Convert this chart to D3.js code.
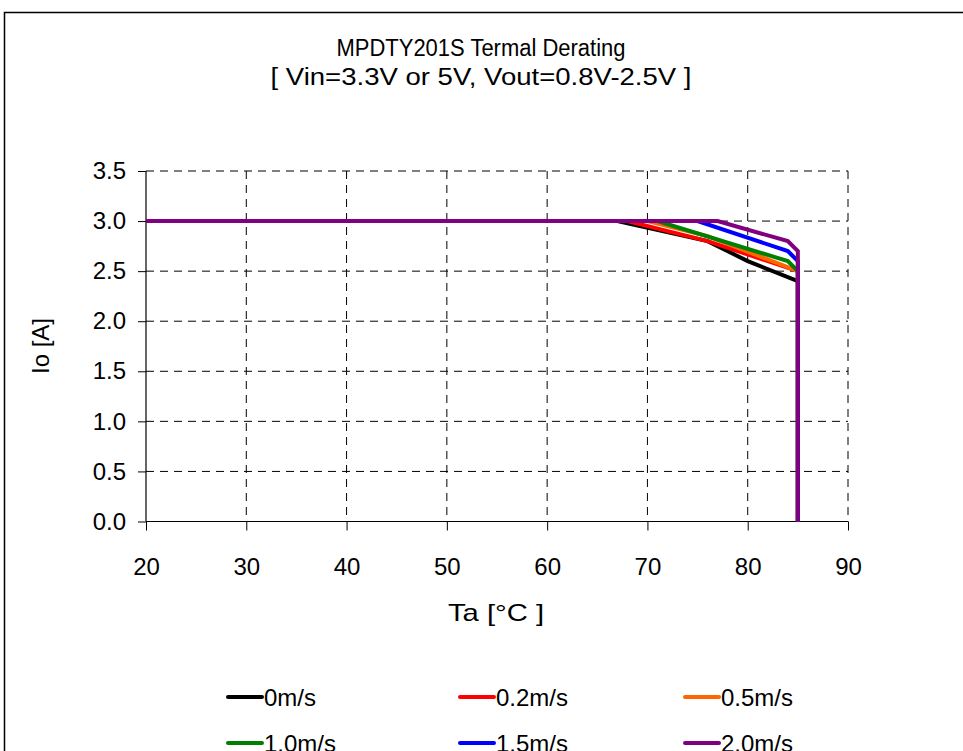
<!DOCTYPE html>
<html><head><meta charset="utf-8">
<script src="https://cdn.jsdelivr.net/npm/d3@7"></script>
<style>body{margin:0;background:#fff;} svg{display:block;} text{font-family:"Liberation Sans",Arial,sans-serif;}</style>
</head><body>
<svg id="c" width="963" height="751"></svg>
<script>
const titleLines = ["MPDTY201S Termal Derating", "[ Vin=3.3V or 5V, Vout=0.8V-2.5V ]"];
const xLabel = "Ta [°C ]";
const yLabel = "Io [A]";
const xTicks = [20, 30, 40, 50, 60, 70, 80, 90];
const yTicks = [0.0, 0.5, 1.0, 1.5, 2.0, 2.5, 3.0, 3.5];
const seriesNames = ["0m/s", "0.2m/s", "0.5m/s", "1.0m/s", "1.5m/s", "2.0m/s"];
const seriesColors = ["#000000", "#ff0000", "#ff6600", "#008000", "#0000ff", "#800080"];
const s0 = [[20,3.0],[67,3.0],[76,2.8],[80,2.6],[85,2.4],[85,0]];
const s02 = [[20,3.0],[68,3.0],[76,2.8],[85,2.5],[85,0]];
const s05 = [[20,3.0],[70,3.0],[76,2.85],[85,2.5],[85,0]];
const s10 = [[20,3.0],[71,3.0],[84,2.6],[85,2.5],[85,0]];
const s15 = [[20,3.0],[75,3.0],[84,2.7],[85,2.6],[85,0]];
const s20 = [[20,3.0],[77,3.0],[84,2.8],[85,2.7],[85,0]];
const seriesData = [s0, s02, s05, s10, s15, s20];

const svg = d3.select("#c");
const FS = 24;
// outer frame
svg.append("rect").attr("x",4.5).attr("y",12.5).attr("width",1000).attr("height",800)
  .attr("fill","none").attr("stroke","#000").attr("stroke-width",1.5);

const L=146, R=848, T=171, B=521.5;
const x = d3.scaleLinear().domain([20,90]).range([L,R]);
const y = d3.scaleLinear().domain([0,3.5]).range([B,T]);

// title
const titleW = [289, 421];
svg.selectAll(".title").data(titleLines).join("text")
  .attr("x",481).attr("y",(d,i)=>56+i*29).attr("text-anchor","middle")
  .attr("font-size",23).attr("textLength",(d,i)=>titleW[i]).attr("lengthAdjust","spacingAndGlyphs").text(d=>d);

// gridlines
const g = svg.append("g");
g.selectAll(".hg").data(yTicks.filter(v=>v>0)).join("line")
  .attr("x1",L).attr("x2",R).attr("y1",d=>y(d)).attr("y2",d=>y(d))
  .attr("stroke","#000").attr("stroke-width",1).attr("stroke-dasharray","8,6");
g.selectAll(".vg").data(xTicks.filter(v=>v>20)).join("line")
  .attr("y1",T).attr("y2",B).attr("x1",d=>x(d)).attr("x2",d=>x(d))
  .attr("stroke","#000").attr("stroke-width",1).attr("stroke-dasharray","8,6");

// axes
const xAxis = d3.axisBottom(x).tickValues(xTicks).tickSize(9).tickPadding(27).tickFormat(d3.format("d"));
const yAxis = d3.axisLeft(y).tickValues(yTicks).tickSize(8).tickPadding(12).tickFormat(d3.format(".1f"));
const gx = svg.append("g").attr("transform",`translate(0,${B})`).call(xAxis);
const gy = svg.append("g").attr("transform",`translate(${L},0)`).call(yAxis);
[gx,gy].forEach(a=>{
  a.select(".domain").attr("stroke","#000").attr("stroke-width",1.2);
  a.selectAll(".tick line").attr("stroke","#000").attr("stroke-width",1);
  a.selectAll("text").attr("font-size",FS).attr("fill","#000").attr("font-family","Liberation Sans, Arial, sans-serif");
});
gy.select(".domain").attr("d",`M-0,${T}V${B}`);
gx.select(".domain").attr("d",`M${L},0H${R}`);

// axis labels
svg.append("text").attr("x",496).attr("y",621).attr("text-anchor","middle").attr("font-size",FS)
  .attr("textLength",96).attr("lengthAdjust","spacingAndGlyphs").text(xLabel);
svg.append("text").attr("transform","translate(49,346) rotate(-90)").attr("text-anchor","middle").attr("font-size",FS).text(yLabel);

// lines
const line = d3.line().x(d=>x(d[0])).y(d=>y(d[1]));
svg.append("g").selectAll("path").data(seriesData).join("path")
  .attr("d",line).attr("fill","none")
  .attr("stroke",(d,i)=>seriesColors[i]).attr("stroke-width",4).attr("stroke-linejoin","miter");

// legend
const colX = [228, 460, 685], rowY = [697, 743];
const lg = svg.append("g").selectAll("g").data(seriesNames).join("g")
  .attr("transform",(d,i)=>`translate(${colX[i%3]},${rowY[Math.floor(i/3)]})`);
lg.append("line").attr("x1",0).attr("x2",34).attr("y1",0).attr("y2",0)
  .attr("stroke",(d,i)=>seriesColors[i]).attr("stroke-width",4).attr("stroke-linecap","round");
lg.append("text").attr("x",36).attr("y",8.5).attr("font-size",FS).text(d=>d);
</script>
</body></html>
